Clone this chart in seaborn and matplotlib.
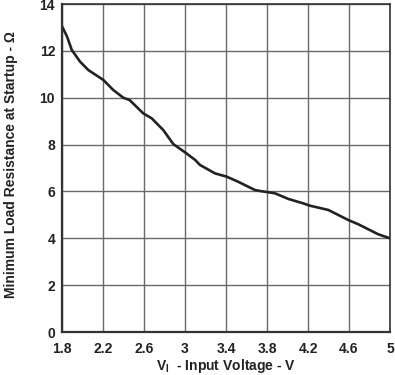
import matplotlib
matplotlib.use("Agg")
import matplotlib.pyplot as plt
import seaborn as sns
import pandas as pd

voltage = [1.80, 1.85, 1.895, 1.976, 2.057, 2.203, 2.30, 2.398, 2.46, 2.593, 2.675,
           2.788, 2.886, 3.00, 3.10, 3.146, 3.293, 3.407, 3.52, 3.585, 3.683, 3.73,
           3.878, 4.008, 4.154, 4.22, 4.398, 4.593, 4.69, 4.886, 5.00]
resistance = [13.05, 12.6, 12.04, 11.54, 11.18, 10.76, 10.33, 10.0, 9.9, 9.33, 9.12,
              8.62, 8.02, 7.67, 7.34, 7.13, 6.77, 6.63, 6.41, 6.27, 6.06, 6.02,
              5.92, 5.68, 5.49, 5.39, 5.21, 4.78, 4.60, 4.17, 4.00]
x_ticks = [1.8, 2.2, 2.6, 3.0, 3.4, 3.8, 4.2, 4.6, 5.0]
x_tick_labels = ["1.8", "2.2", "2.6", "3", "3.4", "3.8", "4.2", "4.6", "5"]
y_ticks = [0, 2, 4, 6, 8, 10, 12, 14]

df = pd.DataFrame({"V": voltage, "R": resistance})

sns.set_theme(style="white")
plt.rcParams['font.family'] = ['Liberation Sans', 'DejaVu Sans']

fig = plt.figure(figsize=(3.95, 3.75), dpi=100)
ax = fig.add_axes([62/395, 43/375, 328/395, 328/375])

sns.lineplot(data=df, x="V", y="R", ax=ax, color="#222222", linewidth=1.9, sort=False)

ax.set_xlim(1.8, 5.0)
ax.set_ylim(0, 14)
ax.set_xticks(x_ticks)
ax.set_xticklabels(x_tick_labels)
ax.set_yticks(y_ticks)
ax.grid(True, color="#6a6a6a", linewidth=1.0)
ax.set_axisbelow(True)
for s in ax.spines.values():
    s.set_color("#333333")
    s.set_linewidth(1.2)
ax.spines['left'].set_linewidth(1.6)
ax.spines['bottom'].set_linewidth(1.6)
ax.tick_params(axis='y', length=0, pad=5, labelsize=10, colors="#222222")
ax.tick_params(axis='x', length=0, pad=7, labelsize=10, colors="#222222")
for lab in ax.get_xticklabels() + ax.get_yticklabels():
    lab.set_fontweight("bold")

ax.set_xlabel(r"V$_\mathregular{I}$  - Input Voltage - V", fontsize=10, fontweight="bold",
              color="#222222", labelpad=1)
ax.set_ylabel("Minimum Load Resistance at Startup - Ω", fontsize=10, fontweight="bold",
              color="#222222")
ax.yaxis.set_label_coords(-44/328, 0.51)

fig.savefig("out.png", dpi=100)
